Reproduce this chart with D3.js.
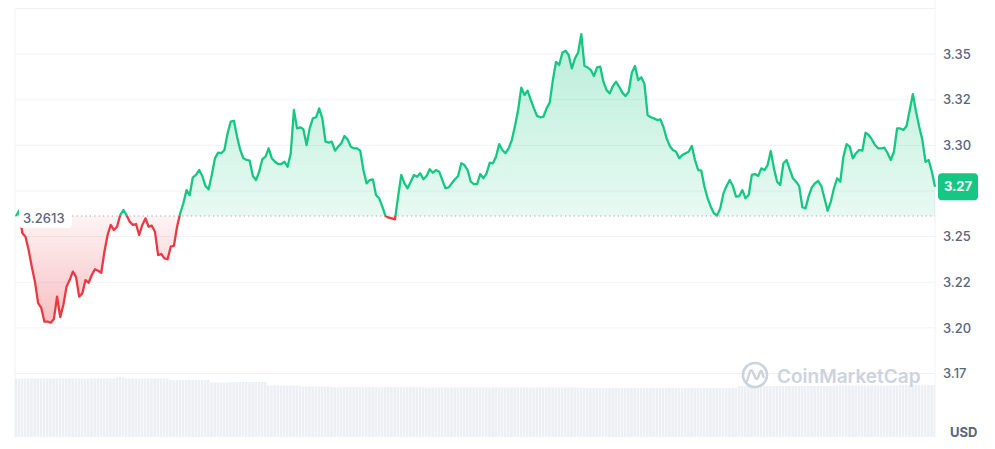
<!DOCTYPE html>
<html>
<head>
<meta charset="utf-8">
<script src="https://cdn.jsdelivr.net/npm/d3@7"></script>
<style>
  html, body { margin: 0; padding: 0; background: #ffffff; }
  svg { display: block; font-family: Inter, "Noto Sans", sans-serif; }
</style>
</head>
<body>
<svg id="chart" width="995" height="449"></svg>
<script>
// ---------------- DATA ----------------
const prices = [
  3.2613, 3.2642, 3.2520, 3.2499, 3.2427, 3.2335, 3.2253, 3.2136, 3.2109, 3.2034,
  3.2034, 3.2028, 3.2049, 3.2171, 3.2059, 3.2125, 3.2226, 3.2262, 3.2308, 3.2280,
  3.2171, 3.2189, 3.2262, 3.2247, 3.2290, 3.2321, 3.2313, 3.2302, 3.2417, 3.2509,
  3.2564, 3.2536, 3.2554, 3.2618, 3.2646, 3.2618, 3.2582, 3.2564, 3.2569, 3.2509,
  3.2564, 3.2600, 3.2554, 3.2560, 3.2527, 3.2399, 3.2405, 3.2381, 3.2376, 3.2445,
  3.2449, 3.2554, 3.2628,
  3.2683, 3.2755, 3.2728, 3.2825, 3.2838, 3.2865, 3.2832, 3.2777, 3.2759, 3.2838,
  3.2929, 3.2960, 3.2957, 3.2975, 3.3066, 3.3130, 3.3135, 3.3047, 3.2975, 3.2929,
  3.2920, 3.2916, 3.2832, 3.2810, 3.2856, 3.2924, 3.2938, 3.2984, 3.2929, 3.2910,
  3.2898, 3.2898, 3.2910, 3.2883, 3.2957, 3.3194, 3.3093, 3.3099, 3.3088, 3.3002,
  3.3093, 3.3148, 3.3154, 3.3203, 3.3148, 3.3020, 3.3015, 3.3020, 3.2971, 3.2993,
  3.3011, 3.3051, 3.3033, 3.2993, 3.2984, 3.2984, 3.2971, 3.2865, 3.2792, 3.2810,
  3.2814,
  3.2728, 3.2710, 3.2664, 3.2613, 3.2604, 3.2600, 3.2595, 3.2719, 3.2838, 3.2792,
  3.2765, 3.2801, 3.2838, 3.2828, 3.2847, 3.2814, 3.2832, 3.2869, 3.2850, 3.2865,
  3.2856, 3.2810, 3.2765, 3.2770, 3.2792, 3.2814, 3.2832, 3.2902, 3.2892, 3.2865,
  3.2801, 3.2788, 3.2788, 3.2843, 3.2820, 3.2847, 3.2905, 3.2902, 3.2938, 3.3007,
  3.2975, 3.2957, 3.2984, 3.3029, 3.3106, 3.3194, 3.3316, 3.3276, 3.3300,
  3.3249, 3.3203, 3.3161, 3.3154, 3.3157, 3.3203, 3.3234, 3.3358, 3.3458, 3.3440,
  3.3508, 3.3519, 3.3495, 3.3422, 3.3477, 3.3508, 3.3610, 3.3435, 3.3428, 3.3413,
  3.3380, 3.3428, 3.3431, 3.3349, 3.3303, 3.3285, 3.3325, 3.3349, 3.3321, 3.3289,
  3.3270, 3.3294, 3.3398, 3.3435, 3.3358, 3.3373, 3.3336, 3.3166, 3.3154, 3.3148,
  3.3139, 3.3143, 3.3102, 3.3039, 3.2997, 3.2975, 3.2965, 3.2929, 3.2947, 3.2957,
  3.2965,
  3.2997, 3.2920, 3.2865, 3.2861, 3.2773, 3.2710, 3.2664, 3.2628, 3.2616, 3.2655,
  3.2737, 3.2777, 3.2810, 3.2777, 3.2719, 3.2722, 3.2755, 3.2710, 3.2728, 3.2838,
  3.2843, 3.2832, 3.2874, 3.2865, 3.2892, 3.2969, 3.2874, 3.2801, 3.2783, 3.2902,
  3.2920, 3.2869, 3.2820, 3.2801, 3.2777, 3.2661, 3.2655, 3.2722, 3.2770, 3.2792,
  3.2806, 3.2777, 3.2710, 3.2642, 3.2691, 3.2765, 3.2820, 3.2801, 3.2938, 3.3007,
  3.2993,
  3.2929, 3.2957, 3.2975, 3.2971, 3.3069, 3.3057, 3.3033, 3.3002, 3.2984, 3.2984,
  3.2987, 3.2957, 3.2920, 3.2965, 3.3093, 3.3093, 3.3084, 3.3106, 3.3194, 3.3281,
  3.3184, 3.3102, 3.3029, 3.2910, 3.2920, 3.2856, 3.2773
];

const volumes = [
  117,117,117,117,117,117,117,117,117,117,117,117,117,117,117,117,117,117,117,117,
  117,117,117,117,117,117,117,117,117,117,117,117,119,120,119,117,117,117,117,117,
  117,117,117,117,117,117,117,117,117,114,114,114,114,114,114,114,114,114,114,114,
  114,114,109,109,109,109,109,109,110,110,110,110,110,110,110,110,110,110,110,110,
  103,103,103,103,103,103,103,103,103,103,103,101,101,101,101,101,101,101,101,101,
  100,100,100,100,100,100,100,100,100,100,100,100,100,100,100,100,100,100,100,100,
  100,100,100,100,100,100,100,100,100,100,99,99,99,99,99,99,99,99,99,99,
  99,99,99,99,99,99,99,99,99,99,99,99,99,99,99,99,99,99,99,99,
  99,99,99,99,99,99,99,99,99,99,99,99,99,99,99,99,99,99,99,99,
  98,98,98,98,98,98,98,98,98,98,98,98,98,98,98,98,98,98,98,98,
  98,98,98,98,98,98,98,98,98,98,98,98,98,98,98,98,98,98,98,98,
  98,98,98,98,98,98,98,98,98,102,102,102,102,102,102,102,102,102,102,102,
  102,102,102,102,102,102,102,102,102,102,102,102,102,102,102,102,102,102,102,102,
  103,103,103,103,103,103,103,103,103,103,103,103,103,103,103,103,103,103,103,103,
  104,104,104,104,104,104,104,104,104,104,104,104
];

const gridValues = [3.175, 3.2, 3.225, 3.25, 3.275, 3.3, 3.325, 3.35, 3.375];
const tickValues = [3.175, 3.2, 3.225, 3.25, 3.275, 3.3, 3.325, 3.35];
const tickLabels = ["3.17", "3.20", "3.22", "3.25", "3.27", "3.30", "3.32", "3.35"];
const openPrice = 3.2613;
const openLabel = "3.2613";
const lastLabel = "3.27";
const currency = "USD";
const brand = "CoinMarketCap";

// ---------------- LAYOUT ----------------
const GREEN = "#16c784", RED = "#ea3943", TEXT = "#58667e", GRID = "#eff2f5";
const plotL = 15, plotR = 935, plotT = 8.5, plotB = 437;

const svg = d3.select("#chart");
const defs = svg.append("defs");

const x = d3.scaleLinear().domain([0, prices.length - 1]).range([16, plotR]);
const y = d3.scaleLinear().domain([3.175, 3.375]).range([373.5, 8.5]);
const yv = d3.scaleLinear().domain([0, 120]).range([plotB, 377]);
const yBase = y(openPrice);
const lastY = y(prices[prices.length - 1]);

// gradients
const gG = defs.append("linearGradient").attr("id", "gGreen")
  .attr("gradientUnits", "userSpaceOnUse").attr("x1", 0).attr("x2", 0)
  .attr("y1", y(d3.max(prices))).attr("y2", yBase);
gG.append("stop").attr("offset", 0).attr("stop-color", GREEN).attr("stop-opacity", 0.3);
gG.append("stop").attr("offset", 1).attr("stop-color", GREEN).attr("stop-opacity", 0.1);

const gR = defs.append("linearGradient").attr("id", "gRed")
  .attr("gradientUnits", "userSpaceOnUse").attr("x1", 0).attr("x2", 0)
  .attr("y1", yBase).attr("y2", y(d3.min(prices)));
gR.append("stop").attr("offset", 0).attr("stop-color", RED).attr("stop-opacity", 0.06);
gR.append("stop").attr("offset", 1).attr("stop-color", RED).attr("stop-opacity", 0.32);

defs.append("clipPath").attr("id", "clipUp").append("rect")
  .attr("x", 0).attr("y", 0).attr("width", plotR + 2).attr("height", yBase);
defs.append("clipPath").attr("id", "clipDown").append("rect")
  .attr("x", 0).attr("y", yBase).attr("width", plotR + 2).attr("height", plotB - yBase);
defs.append("clipPath").attr("id", "clipPlot").append("rect")
  .attr("x", plotL).attr("y", 0).attr("width", plotR - plotL).attr("height", plotB);

// gridlines
svg.append("g").selectAll("line").data(gridValues).join("line")
  .attr("x1", plotL).attr("x2", plotR)
  .attr("y1", d => y(d)).attr("y2", d => y(d))
  .attr("stroke", GRID).attr("stroke-width", 1);

// frame verticals
svg.append("line").attr("x1", plotL).attr("x2", plotL).attr("y1", plotT).attr("y2", plotB + 1)
  .attr("stroke", GRID).attr("stroke-width", 1);
svg.append("line").attr("x1", plotR).attr("x2", plotR).attr("y1", 0).attr("y2", plotB + 1)
  .attr("stroke", GRID).attr("stroke-width", 1);

// volume bars
const step = x(1) - x(0);
svg.append("g").attr("clip-path", "url(#clipPlot)")
  .selectAll("rect").data(volumes).join("rect")
  .attr("x", (d, i) => x(i) - step / 2)
  .attr("width", step - 0.6)
  .attr("y", d => yv(d))
  .attr("height", d => plotB - yv(d))
  .attr("fill", "#eceff3");

// watermark
const wm = svg.append("g").attr("fill", "none").attr("stroke", "#cdd3dc");
wm.append("circle").attr("cx", 755).attr("cy", 375).attr("r", 12).attr("stroke-width", 2.6);
wm.append("path").attr("d", "M747,381 L750,371.5 Q751,369 752.5,371.5 L755.5,378 Q757,380 758,377.5 L760,372 Q761,369.5 762,372 L763.5,377")
  .attr("stroke-width", 2.4).attr("stroke-linecap", "round").attr("stroke-linejoin", "round");
svg.append("text").attr("x", 777).attr("y", 382.5).text(brand)
  .attr("font-size", 19).attr("font-weight", 600).attr("fill", "#cdd3dc");

// areas
const areaGen = d3.area().x((d, i) => x(i)).y0(yBase).y1(d => y(d));
svg.append("path").datum(prices).attr("d", areaGen).attr("fill", "url(#gGreen)").attr("clip-path", "url(#clipUp)");
svg.append("path").datum(prices).attr("d", areaGen).attr("fill", "url(#gRed)").attr("clip-path", "url(#clipDown)");

// baseline dotted
svg.append("line").attr("x1", plotL).attr("x2", plotR).attr("y1", yBase).attr("y2", yBase)
  .attr("stroke", "#9ea4b0").attr("stroke-width", 1.2).attr("stroke-dasharray", "1.2,3.2");

// lines
const lineGen = d3.line().x((d, i) => x(i)).y(d => y(d));
svg.append("path").datum(prices).attr("d", lineGen).attr("fill", "none")
  .attr("stroke", GREEN).attr("stroke-width", 2.3).attr("stroke-linejoin", "round").attr("clip-path", "url(#clipUp)");
svg.append("path").datum(prices).attr("d", lineGen).attr("fill", "none")
  .attr("stroke", RED).attr("stroke-width", 2.3).attr("stroke-linejoin", "round").attr("clip-path", "url(#clipDown)");

// y axis labels (the one hidden behind the live price box is left out, as in the reference)
const axis = d3.axisRight(y).tickValues(tickValues)
  .tickFormat((d, i) => tickLabels[i]).tickSize(0).tickPadding(8);
const ag = svg.append("g").attr("transform", `translate(${plotR},0)`).call(axis);
ag.select(".domain").remove();
ag.selectAll(".tick").filter(d => Math.abs(y(d) - lastY) < 16).remove();
ag.selectAll("text").attr("fill", TEXT).attr("font-size", 13).attr("font-family", "Inter, sans-serif").attr("font-weight", 500);

// currency
svg.append("text").attr("x", 950).attr("y", 437).text(currency)
  .attr("fill", TEXT).attr("font-size", 13).attr("font-weight", 700);

// open price label
svg.append("rect").attr("x", 19).attr("y", yBase - 10).attr("width", 53).attr("height", 22)
  .attr("rx", 4).attr("fill", "#ffffff");
svg.append("text").attr("x", 23).attr("y", yBase + 2).attr("dy", "0.35em").text(openLabel)
  .attr("fill", TEXT).attr("font-size", 13).attr("font-weight", 500);

// last price box
svg.append("rect").attr("x", 938).attr("y", lastY - 13.5).attr("width", 40).attr("height", 27)
  .attr("rx", 4).attr("fill", GREEN);
svg.append("text").attr("x", 958).attr("y", lastY).attr("dy", "0.35em").attr("text-anchor", "middle")
  .text(lastLabel).attr("fill", "#ffffff").attr("font-size", 13).attr("font-weight", 700);
</script>
</body>
</html>
